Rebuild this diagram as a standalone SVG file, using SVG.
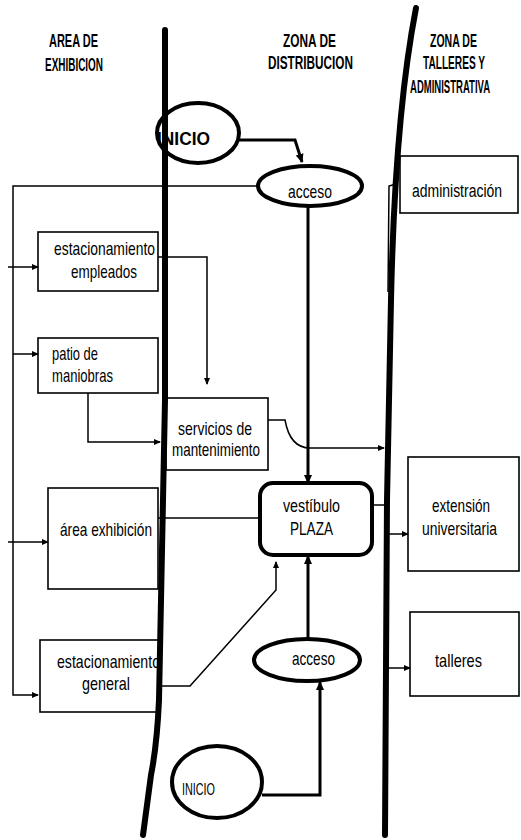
<svg xmlns="http://www.w3.org/2000/svg" width="521" height="840" viewBox="0 0 521 840">
<style>
text{font-family:"Liberation Sans",Arial,sans-serif;fill:#000}
.t{font-size:19px}
.z{font-size:18px;font-weight:bold}
.box{fill:#fff;stroke:#000;stroke-width:1.6}
.ell{fill:#fff;stroke:#000;stroke-width:4}
.thin{fill:none;stroke:#000;stroke-width:1.5}
.thick{fill:none;stroke:#000;stroke-width:3}
.div{fill:none;stroke:#000;stroke-linecap:round}
</style>
<defs>
<marker id="a" markerUnits="userSpaceOnUse" markerWidth="8" markerHeight="8" refX="6" refY="4" orient="auto"><path d="M0,1 L7,4 L0,7 Z" fill="#000"/></marker>
<marker id="ab" markerUnits="userSpaceOnUse" markerWidth="10" markerHeight="10" refX="8" refY="5" orient="auto"><path d="M0,1 L9,5 L0,9 Z" fill="#000"/></marker>
</defs>
<rect width="521" height="840" fill="#fff"/>

<g id="labels">
<text class="z" x="49" y="47" textLength="49" lengthAdjust="spacingAndGlyphs">AREA DE</text>
<text class="z" x="45" y="71" textLength="58" lengthAdjust="spacingAndGlyphs">EXHIBICION</text>
<text class="z" x="283" y="47" textLength="53" lengthAdjust="spacingAndGlyphs">ZONA DE</text>
<text class="z" x="268" y="69" textLength="85" lengthAdjust="spacingAndGlyphs">DISTRIBUCION</text>
<text class="z" x="430" y="47" textLength="47" lengthAdjust="spacingAndGlyphs">ZONA DE</text>
<text class="z" transform="translate(423,69) scale(0.554,1)" x="0" y="0" textLength="112" lengthAdjust="spacingAndGlyphs">TALLERES Y</text>
<text class="z" transform="translate(410,93) scale(0.52,1)" x="0" y="0" textLength="154" lengthAdjust="spacingAndGlyphs">ADMINISTRATIVA</text>
</g>

<g id="inicio-top">
<ellipse class="ell" cx="198" cy="133" rx="41" ry="30"/>
<text x="157" y="145" font-size="19" font-weight="bold" textLength="53" lengthAdjust="spacingAndGlyphs">INICIO</text>
</g>
<g id="acceso-top">
<ellipse class="ell" cx="310" cy="186" rx="52" ry="20"/>
<text class="t" x="288" y="198" textLength="44" lengthAdjust="spacingAndGlyphs">acceso</text>
</g>
<g id="administracion">
<rect class="box" x="400" y="156" width="118" height="57"/>
<text class="t" transform="translate(412,197) scale(0.735,1)" x="0" y="0" textLength="122.5" lengthAdjust="spacingAndGlyphs">administración</text>
</g>
<g id="estacionamiento-empleados">
<rect class="box" x="38" y="232" width="120" height="59"/>
<text class="t" x="54" y="255" textLength="101" lengthAdjust="spacingAndGlyphs">estacionamiento</text>
<text class="t" x="71" y="278" textLength="66" lengthAdjust="spacingAndGlyphs">empleados</text>
</g>
<g id="patio-maniobras">
<rect class="box" x="38" y="338" width="120" height="55"/>
<text class="t" x="52" y="360" textLength="46" lengthAdjust="spacingAndGlyphs">patio de</text>
<text class="t" x="52" y="382" textLength="61" lengthAdjust="spacingAndGlyphs">maniobras</text>
</g>
<g id="servicios-mantenimiento">
<rect class="box" x="166" y="398" width="102" height="72"/>
<text class="t" x="178" y="435" textLength="74" lengthAdjust="spacingAndGlyphs">servicios de</text>
<text class="t" x="172" y="456" textLength="88" lengthAdjust="spacingAndGlyphs">mantenimiento</text>
</g>
<g id="vestibulo-plaza">
<rect x="260" y="483" width="112" height="72" rx="13" fill="#fff" stroke="#000" stroke-width="4"/>
<text class="t" x="283" y="512" textLength="57" lengthAdjust="spacingAndGlyphs">vestíbulo</text>
<text class="t" x="290" y="535" textLength="43" lengthAdjust="spacingAndGlyphs">PLAZA</text>
</g>
<g id="area-exhibicion">
<rect class="box" x="48" y="488" width="110" height="101"/>
<text class="t" x="60" y="536" textLength="92" lengthAdjust="spacingAndGlyphs">área exhibición</text>
</g>
<g id="extension-universitaria">
<rect class="box" x="408" y="457" width="111" height="114"/>
<text class="t" x="432" y="512" textLength="58" lengthAdjust="spacingAndGlyphs">extensión</text>
<text class="t" transform="translate(422,535) scale(0.73,1)" x="0" y="0" textLength="102.7" lengthAdjust="spacingAndGlyphs">universitaria</text>
</g>
<g id="estacionamiento-general">
<rect class="box" x="40" y="640" width="120" height="72"/>
<text class="t" x="57" y="668" textLength="103" lengthAdjust="spacingAndGlyphs">estacionamiento</text>
<text class="t" x="82" y="690" textLength="48" lengthAdjust="spacingAndGlyphs">general</text>
</g>
<g id="acceso-bottom">
<ellipse class="ell" cx="307" cy="660" rx="53" ry="21"/>
<text class="t" x="292" y="665" textLength="43" lengthAdjust="spacingAndGlyphs">acceso</text>
</g>
<g id="talleres">
<rect class="box" x="410" y="612" width="109" height="84"/>
<text class="t" x="435" y="667" textLength="47" lengthAdjust="spacingAndGlyphs">talleres</text>
</g>
<g id="inicio-bottom">
<ellipse class="ell" cx="217" cy="782" rx="45" ry="36"/>
<text x="182" y="795" font-size="16" textLength="33" lengthAdjust="spacingAndGlyphs">INICIO</text>
</g>

<g id="dividers">
<path class="div" stroke-width="6" d="M165,30 L165,400 L161,600 L159,700 Q157,745 151,775 L143,835"/>
<path class="div" stroke-width="6" d="M416,8 C404,70 394,160 391,300 L387,500 L385,835"/>
</g>

<g id="connectors">
<path class="thick" d="M239,140 L295,140 L302,162" marker-end="url(#ab)"/>
<path class="thin" d="M258,186 L13,186 L13,695 L38,695" marker-end="url(#a)"/>
<path class="thin" d="M8,267 L38,267" marker-end="url(#a)"/>
<path class="thin" d="M13,354 L38,354" marker-end="url(#a)"/>
<path class="thin" d="M8,542 L48,542" marker-end="url(#a)"/>
<path class="thin" d="M396,184 L389,186 L388,292"/>
<path class="thin" d="M158,257 L207,257 L207,384" marker-end="url(#a)"/>
<path class="thin" d="M88,393 L88,442 L160,442" marker-end="url(#a)"/>
<path class="thin" d="M268,420 L285,420 Q290,448 310,448 L384,448" marker-end="url(#a)"/>
<path class="thick" d="M308,206 L308,483" marker-end="url(#ab)"/>
<path class="thin" d="M372,505 L388,505"/>
<path class="thin" d="M158,518 L260,518"/>
<path class="thin" d="M388,534 L408,534" marker-end="url(#a)"/>
<path class="thin" d="M388,668 L410,668" marker-end="url(#a)"/>
<path class="thin" d="M160,686 L190,686 L276,590 L276,562" marker-end="url(#a)"/>
<path class="thick" d="M308,639 L308,556" marker-end="url(#ab)"/>
<path class="thick" d="M262,795 L320,795 L320,682" marker-end="url(#ab)"/>
</g>
</svg>
